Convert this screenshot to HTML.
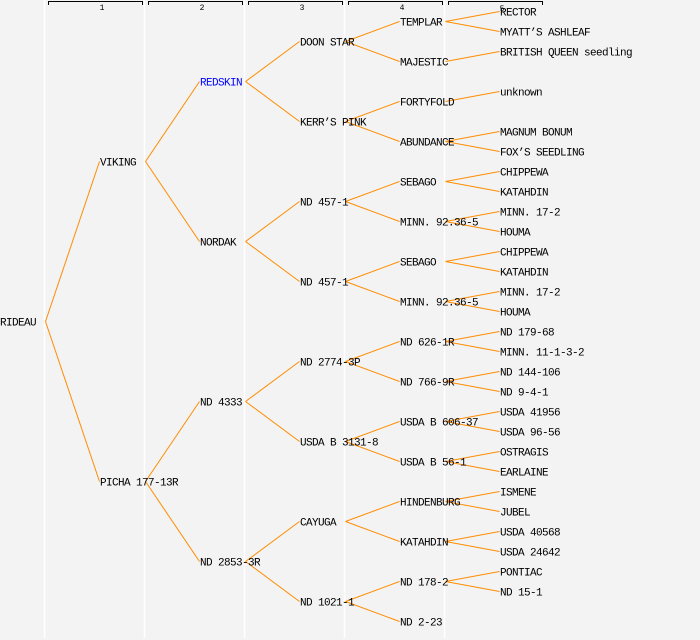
<!DOCTYPE html>
<html><head><meta charset="utf-8"><style>
html,body{margin:0;padding:0;background:#f3f3f3;}
svg{display:block;}
text{font-family:"Liberation Mono",monospace;font-size:11px;letter-spacing:-0.6px;fill:#000;}
</style></head><body>
<svg width="700" height="640" xmlns="http://www.w3.org/2000/svg" id="s">
<rect width="700" height="640" fill="#f3f3f3"/>
<g stroke="#fff" stroke-width="1.5">
<line x1="44.5" y1="0" x2="44.5" y2="638"/>
<line x1="144.5" y1="0" x2="144.5" y2="638"/>
<line x1="244.5" y1="0" x2="244.5" y2="638"/>
<line x1="344.5" y1="0" x2="344.5" y2="638"/>
<line x1="444.5" y1="0" x2="444.5" y2="638"/>
</g>
<g stroke="#000" stroke-width="1" fill="none">
<path d="M48.5 5V1.5H142.5V5"/>
<path d="M148.5 5V1.5H242.5V5"/>
<path d="M248.5 5V1.5H342.5V5"/>
<path d="M348.5 5V1.5H442.5V5"/>
<path d="M448.5 5V1.5H542.5V5"/>
</g>
<g text-anchor="middle">
<text x="102" y="10" style="font-size:8px;letter-spacing:0">1</text>
<text x="202" y="10" style="font-size:8px;letter-spacing:0">2</text>
<text x="302" y="10" style="font-size:8px;letter-spacing:0">3</text>
<text x="402" y="10" style="font-size:8px;letter-spacing:0">4</text>
<text x="502" y="11" style="font-size:8px;letter-spacing:0">5</text>
</g>
<g id="lines" stroke="#ff8c00" stroke-width="1" fill="none"></g>
<g id="labels"></g>
</svg>
<script>
const T=[["RIDEAU",321,[["VIKING",161,[["REDSKIN",81,[["DOON STAR",41,[["TEMPLAR",21,[["RECTOR",11],["MYATT’S ASHLEAF",31]]],["MAJESTIC",61,[["BRITISH QUEEN seedling",51]]]]],["KERR’S PINK",121,[["FORTYFOLD",101,[["unknown",91]]],["ABUNDANCE",141,[["MAGNUM BONUM",131],["FOX’S SEEDLING",151]]]]]]],["NORDAK",241,[["ND 457-1",201,[["SEBAGO",181,[["CHIPPEWA",171],["KATAHDIN",191]]],["MINN. 92.36-5",221,[["MINN. 17-2",211],["HOUMA",231]]]]],["ND 457-1",281,[["SEBAGO",261,[["CHIPPEWA",251],["KATAHDIN",271]]],["MINN. 92.36-5",301,[["MINN. 17-2",291],["HOUMA",311]]]]]]]]],["PICHA 177-13R",481,[["ND 4333",401,[["ND 2774-3P",361,[["ND 626-1R",341,[["ND 179-68",331],["MINN. 11-1-3-2",351]]],["ND 766-9R",381,[["ND 144-106",371],["ND 9-4-1",391]]]]],["USDA B 3131-8",441,[["USDA B 606-37",421,[["USDA 41956",411],["USDA 96-56",431]]],["USDA B 56-1",461,[["OSTRAGIS",451],["EARLAINE",471]]]]]]],["ND 2853-3R",561,[["CAYUGA",521,[["HINDENBURG",501,[["ISMENE",491],["JUBEL",511]]],["KATAHDIN",541,[["USDA 40568",531],["USDA 24642",551]]]]],["ND 1021-1",601,[["ND 178-2",581,[["PONTIAC",571],["ND 15-1",591]]],["ND 2-23",621]]]]]]]]]];
const NS="http://www.w3.org/2000/svg";
const L=document.getElementById("lines"),B=document.getElementById("labels");
function walk(n,d){
 const t=document.createElementNS(NS,"text");
 t.setAttribute("x",d*100);t.setAttribute("y",n[1]+4.5);t.textContent=n[0];
 if(n[0]==="REDSKIN")t.setAttribute("style","fill:#0000ff");
 B.appendChild(t);
 if(n[2])for(const c of n[2]){
  const l=document.createElementNS(NS,"line");
  l.setAttribute("x1",d*100+45.5);l.setAttribute("y1",n[1]+0.5);
  l.setAttribute("x2",(d+1)*100-0.5);l.setAttribute("y2",c[1]+0.5);
  L.appendChild(l);walk(c,d+1);
 }
}
walk(T[0],0);
</script>
</body></html>
